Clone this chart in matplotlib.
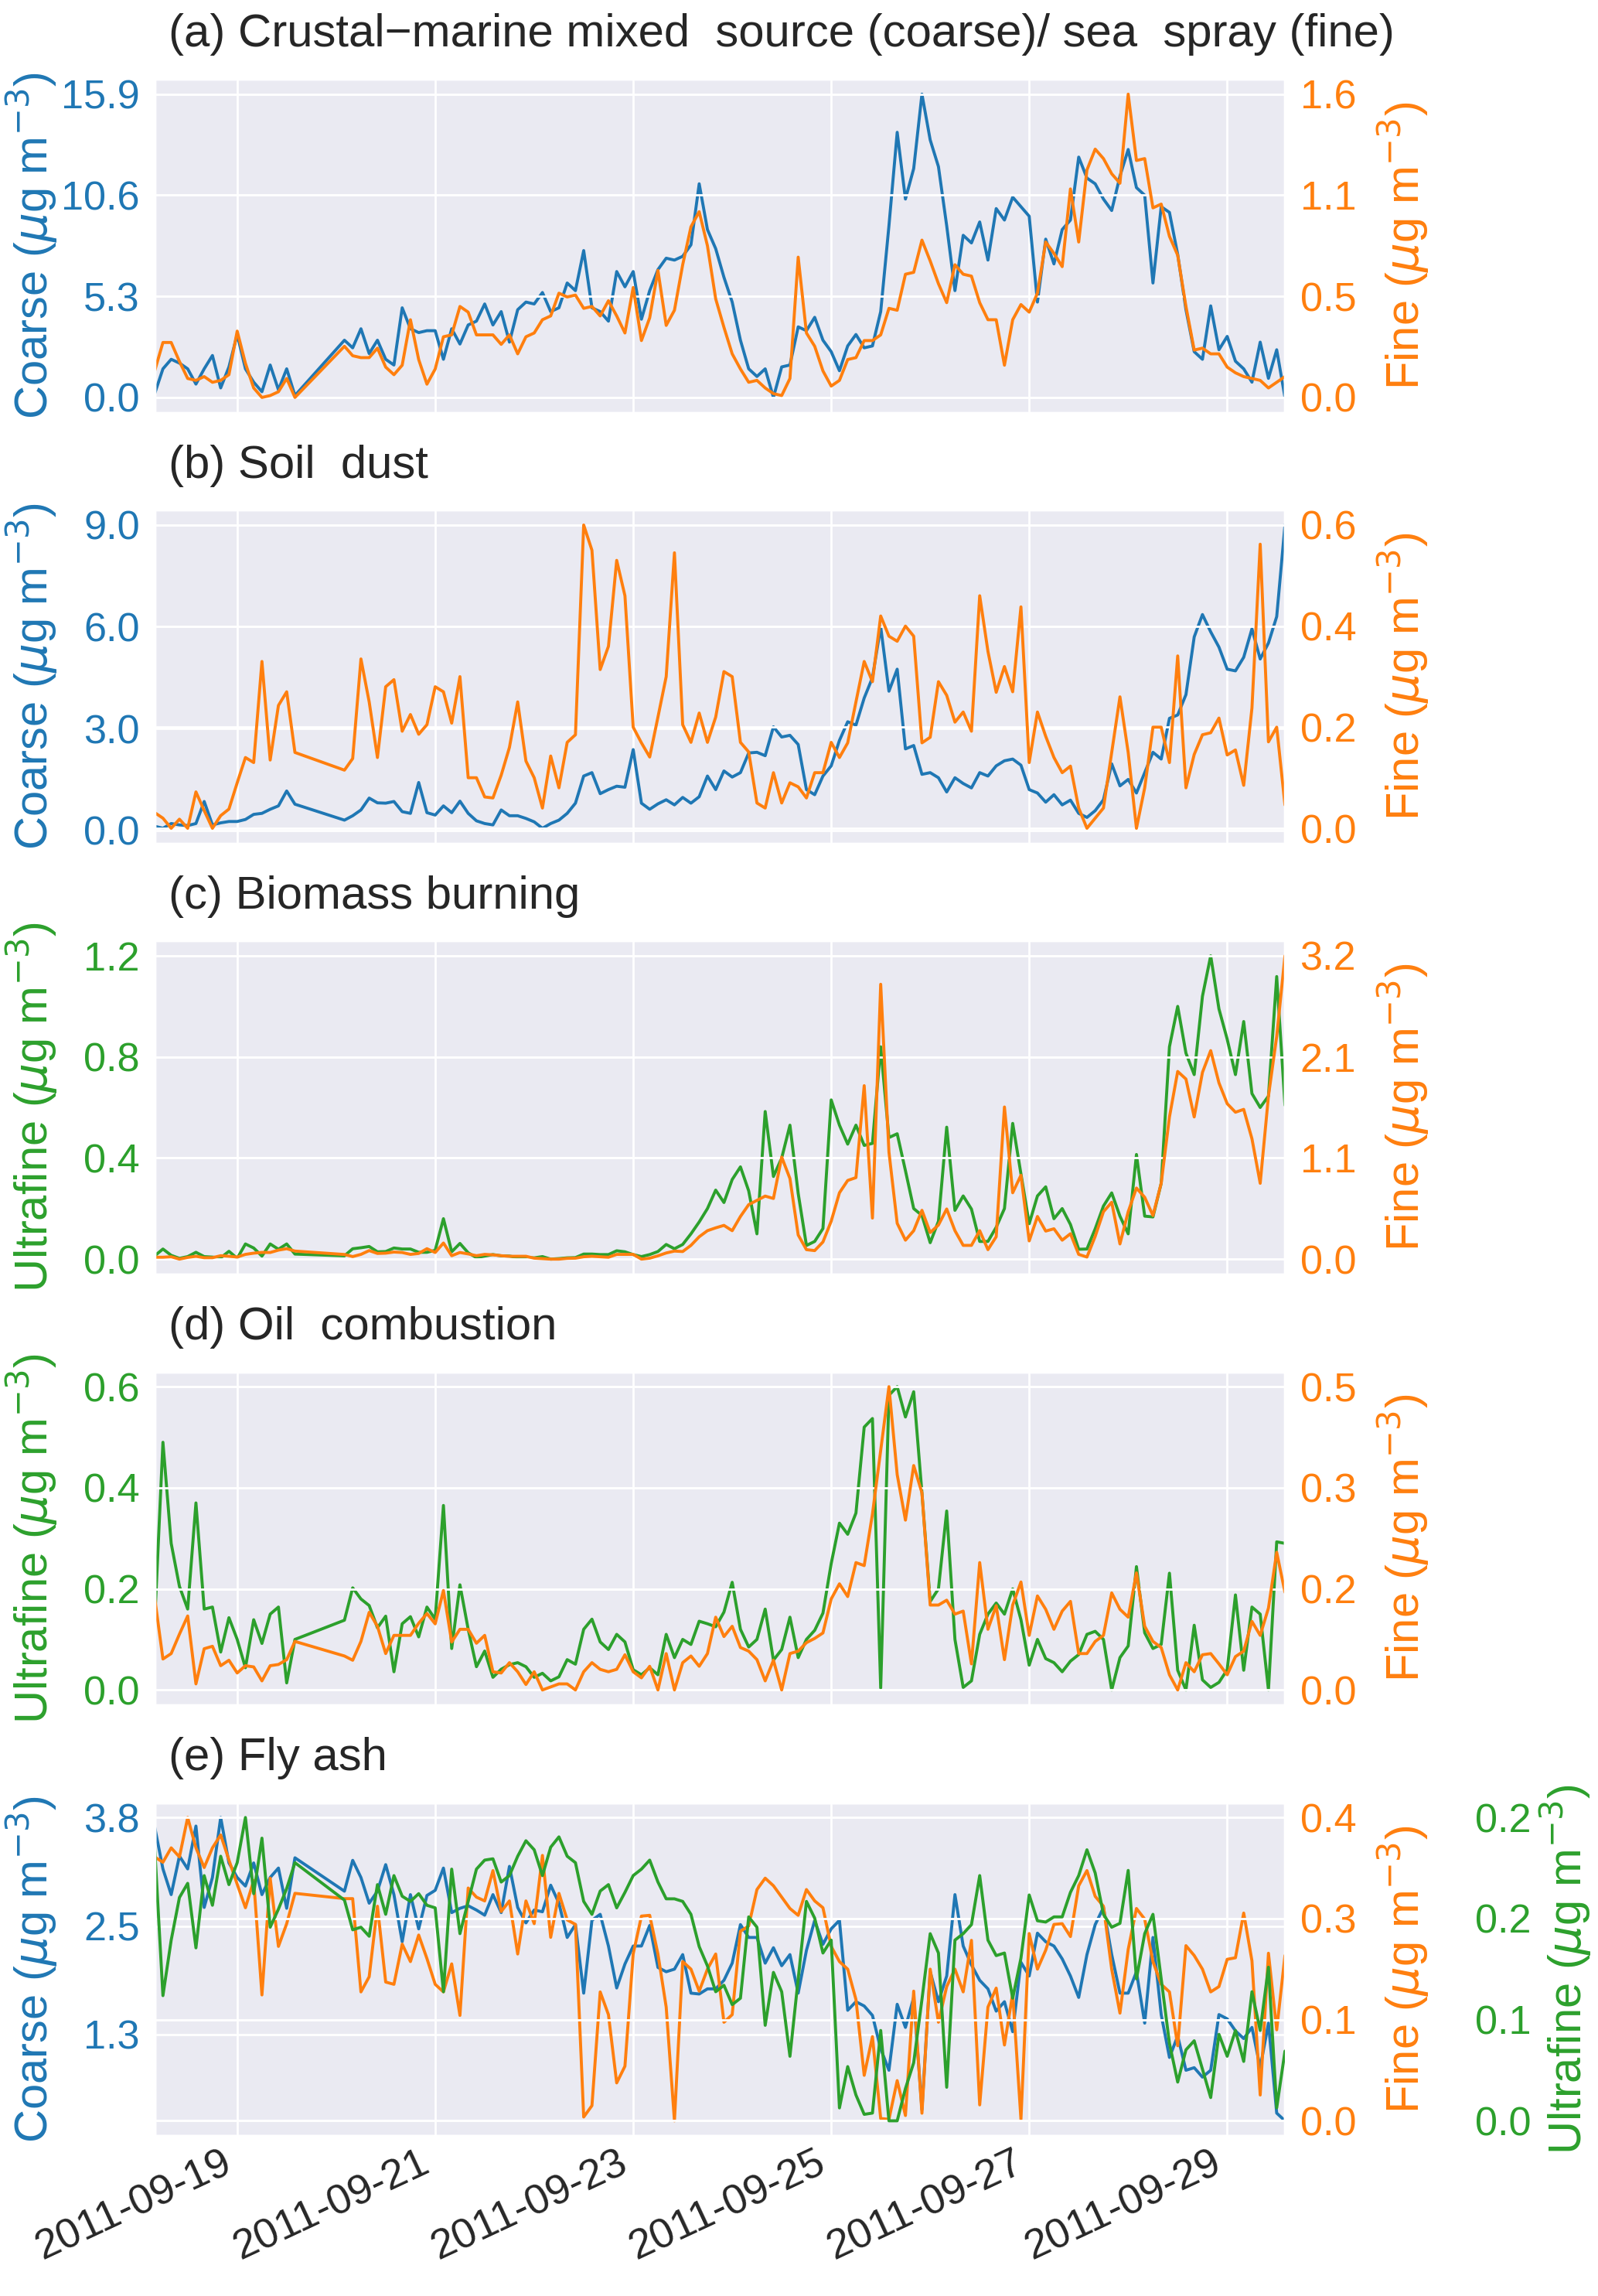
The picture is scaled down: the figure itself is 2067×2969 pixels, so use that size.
import sys
import numpy as np
import pandas as pd
import matplotlib
matplotlib.use("Agg")
import matplotlib.pyplot as plt
import matplotlib.dates as mdates
from matplotlib.ticker import FormatStrFormatter
import seaborn as sns

sns.set_theme(style="darkgrid")
plt.rcParams["font.family"] = ["Liberation Sans", "DejaVu Sans"]

# ---------------- time axis (2-hourly samples, gap on 19-20 Sep) ----------------
all_times = pd.date_range("2011-09-18 04:00", periods=138, freq="2h")
gap_idx = list(range(18, 23))
times = np.delete(all_times.to_pydatetime(), gap_idx)

# ---------------- (a) crustal-marine / sea spray ----------------
coarse_a = [
    0.2, 1.5, 2.0, 1.8, 1.5, 0.7, 1.5, 2.2, 0.5, 1.6,
    3.3, 1.5, 0.8, 0.3, 1.7, 0.4, 1.5, 0.1,
    3.0, 2.6, 3.6, 2.3, 3.0, 2.0, 1.7, 4.7, 3.6, 3.4,
    3.5, 3.5, 2.0, 3.6, 2.8, 3.8, 4.0, 4.9, 3.8, 4.5,
    2.9, 4.6, 5.0, 4.9, 5.5, 4.5, 4.7, 6.0, 5.6, 7.7,
    4.7, 4.5, 4.0, 6.6, 5.8, 6.6, 4.1, 5.6, 6.7, 7.3,
    7.2, 7.4, 8.0, 11.2, 8.8, 7.8, 6.3, 5.0, 3.0, 1.5,
    1.1, 1.5, 0.0, 1.6, 1.7, 3.7, 3.5, 4.2, 3.0, 2.4,
    1.4, 2.7, 3.3, 2.6, 2.7, 4.5, 9.0, 13.9, 10.4, 12.0,
    15.9, 13.5, 12.1, 9.0, 5.6, 8.5, 8.1, 9.2, 7.2, 9.9,
    9.3, 10.5, 10.0, 9.5, 5.0, 8.3, 7.0, 8.8, 9.3, 12.6,
    11.5, 11.2, 10.4, 9.8, 11.6, 13.0, 11.0, 10.6, 6.0, 10.0,
    9.7, 7.5, 4.6, 2.4, 2.0, 4.8, 2.5, 3.2, 1.9, 1.5,
    0.8, 2.9, 1.0, 2.5, 0.0,
]
fine_a = [
    0.14, 0.29, 0.29, 0.19, 0.10, 0.09, 0.11, 0.08, 0.09, 0.12,
    0.35, 0.18, 0.05, 0.0, 0.01, 0.03, 0.10, 0.0,
    0.27, 0.22, 0.21, 0.21, 0.26, 0.16, 0.12, 0.17, 0.41, 0.20,
    0.07, 0.15, 0.32, 0.33, 0.48, 0.45, 0.33, 0.33, 0.33, 0.28,
    0.33, 0.23, 0.32, 0.34, 0.41, 0.43, 0.55, 0.53, 0.54, 0.47,
    0.48, 0.43, 0.51, 0.43, 0.34, 0.58, 0.30, 0.42, 0.67, 0.38,
    0.46, 0.70, 0.90, 0.98, 0.80, 0.52, 0.37, 0.23, 0.15, 0.08,
    0.09, 0.05, 0.02, 0.01, 0.10, 0.74, 0.34, 0.27, 0.14, 0.06,
    0.09, 0.20, 0.21, 0.30, 0.30, 0.33, 0.47, 0.46, 0.65, 0.66,
    0.83, 0.72, 0.60, 0.50, 0.70, 0.65, 0.64, 0.50, 0.41, 0.41,
    0.17, 0.41, 0.49, 0.45, 0.55, 0.82, 0.76, 0.69, 1.10, 0.82,
    1.20, 1.31, 1.26, 1.18, 1.13, 1.60, 1.25, 1.26, 1.00, 1.02,
    0.85, 0.75, 0.48, 0.25, 0.26, 0.23, 0.23, 0.16, 0.13, 0.11,
    0.10, 0.09, 0.05, 0.08, 0.11,
]

# ---------------- (b) soil dust ----------------
coarse_b = [
    0.12, 0.06, 0.2, 0.16, 0.14, 0.2, 0.85, 0.16, 0.22, 0.26,
    0.26, 0.32, 0.47, 0.5, 0.62, 0.72, 1.16, 0.77,
    0.3, 0.43, 0.6, 0.95, 0.81, 0.8, 0.85, 0.55, 0.5, 1.41,
    0.52, 0.45, 0.72, 0.52, 0.86, 0.5, 0.28, 0.2, 0.16, 0.6,
    0.43, 0.43, 0.35, 0.25, 0.06, 0.2, 0.3, 0.5, 0.8, 1.6,
    1.7, 1.08, 1.2, 1.3, 1.27, 2.38, 0.8, 0.62, 0.78, 0.9,
    0.75, 0.97, 0.8, 0.99, 1.6, 1.2, 1.75, 1.57, 1.7, 2.28,
    2.3, 2.2, 3.05, 2.75, 2.8, 2.53, 1.2, 1.05, 1.6, 1.9,
    2.65, 3.2, 3.1, 3.9, 4.5, 6.0, 4.1, 4.75, 2.4, 2.5,
    1.65, 1.7, 1.55, 1.13, 1.55, 1.38, 1.25, 1.7, 1.6, 1.9,
    2.05, 2.1, 1.92, 1.2, 1.1, 0.83, 1.05, 0.75, 0.89, 0.5,
    0.38, 0.58, 0.9, 1.96, 1.31, 1.5, 1.1, 1.7, 2.3, 2.1,
    3.3, 3.4, 4.0, 5.7, 6.36, 5.85, 5.4, 4.75, 4.7, 5.1,
    5.94, 5.05, 5.52, 6.3, 9.0,
]
fine_b = [
    0.031, 0.02, 0.0, 0.018, 0.0, 0.072, 0.035, 0.0, 0.025, 0.038,
    0.09, 0.14, 0.13, 0.33, 0.135, 0.243, 0.27, 0.15,
    0.115, 0.138, 0.335, 0.25, 0.14, 0.28, 0.294, 0.192, 0.225, 0.186,
    0.205, 0.28, 0.27, 0.208, 0.30, 0.10, 0.10, 0.062, 0.06, 0.105,
    0.16, 0.25, 0.133, 0.10, 0.04, 0.143, 0.08, 0.17, 0.185, 0.6,
    0.55, 0.314, 0.36, 0.53, 0.46, 0.20, 0.169, 0.141, 0.22, 0.30,
    0.545, 0.205, 0.17, 0.228, 0.17, 0.22, 0.31, 0.30, 0.17, 0.151,
    0.05, 0.04, 0.11, 0.05, 0.09, 0.082, 0.06, 0.11, 0.11, 0.17,
    0.14, 0.169, 0.25, 0.33, 0.29, 0.42, 0.38, 0.37, 0.40, 0.38,
    0.169, 0.18, 0.29, 0.263, 0.21, 0.23, 0.192, 0.46, 0.35, 0.269,
    0.32, 0.27, 0.438, 0.13, 0.23, 0.182, 0.14, 0.11, 0.123, 0.04,
    0.0, 0.02, 0.04, 0.15, 0.26, 0.15, 0.0, 0.08, 0.20, 0.20,
    0.13, 0.341, 0.08, 0.146, 0.185, 0.189, 0.218, 0.145, 0.155, 0.085,
    0.238, 0.562, 0.171, 0.2, 0.046,
]

# ---------------- (c) biomass burning ----------------
ultra_c = [
    0.013, 0.04, 0.015, 0.003, 0.01, 0.027, 0.01, 0.008, 0.005, 0.031,
    0.003, 0.06, 0.044, 0.012, 0.06, 0.039, 0.06, 0.02,
    0.013, 0.041, 0.045, 0.05, 0.029, 0.03, 0.044, 0.04, 0.04, 0.027,
    0.027, 0.035, 0.16, 0.029, 0.062, 0.025, 0.006, 0.012, 0.018, 0.013,
    0.012, 0.006, 0.006, 0.005, 0.01, 0.0, 0.002, 0.005, 0.006, 0.02,
    0.02, 0.018, 0.018, 0.033, 0.029, 0.018, 0.01, 0.018, 0.03, 0.058,
    0.041, 0.058, 0.1, 0.147, 0.2, 0.273, 0.224, 0.315, 0.365, 0.27,
    0.1, 0.584, 0.327, 0.4, 0.53, 0.26, 0.054, 0.07, 0.121, 0.63,
    0.53, 0.455, 0.53, 0.45, 0.458, 0.84, 0.481, 0.496, 0.35, 0.2,
    0.173, 0.065, 0.15, 0.522, 0.193, 0.25, 0.198, 0.07, 0.07, 0.126,
    0.2, 0.537, 0.337, 0.14, 0.25, 0.286, 0.16, 0.2, 0.137, 0.039,
    0.04, 0.12, 0.21, 0.262, 0.17, 0.1, 0.414, 0.17, 0.167, 0.3,
    0.84, 1.0, 0.815, 0.73, 1.04, 1.2, 0.99, 0.87, 0.73, 0.94,
    0.655, 0.6, 0.645, 1.118, 0.609,
]
fine_c = [
    0.02, 0.02, 0.025, 0.0, 0.018, 0.03, 0.015, 0.015, 0.036, 0.03,
    0.022, 0.05, 0.063, 0.071, 0.07, 0.095, 0.11, 0.085,
    0.049, 0.027, 0.05, 0.09, 0.06, 0.063, 0.075, 0.07, 0.05, 0.06,
    0.11, 0.07, 0.17, 0.036, 0.07, 0.055, 0.036, 0.05, 0.045, 0.036,
    0.03, 0.03, 0.03, 0.01, 0.005, 0.0, 0.0, 0.008, 0.01, 0.025,
    0.03, 0.025, 0.02, 0.05, 0.05, 0.05, 0.0, 0.01, 0.035, 0.065,
    0.085, 0.08, 0.145, 0.236, 0.3, 0.33, 0.356, 0.3, 0.45, 0.575,
    0.62, 0.665, 0.64, 1.077, 0.85, 0.255, 0.1, 0.09, 0.181, 0.4,
    0.7, 0.83, 0.86, 1.83, 0.433, 2.9, 1.13, 0.378, 0.2, 0.3,
    0.515, 0.28, 0.36, 0.529, 0.3, 0.145, 0.145, 0.3, 0.1, 0.236,
    1.605, 0.7, 0.885, 0.192, 0.45, 0.296, 0.32, 0.2, 0.268, 0.05,
    0.022, 0.24, 0.5, 0.6, 0.16, 0.5, 0.75, 0.652, 0.46, 0.8,
    1.5, 1.98, 1.9, 1.5, 1.97, 2.2, 1.86, 1.64, 1.55, 1.58,
    1.27, 0.80, 1.72, 2.35, 3.2,
]

# ---------------- (d) oil combustion ----------------
ultra_d = [
    0.134, 0.49, 0.29, 0.205, 0.16, 0.37, 0.16, 0.164, 0.075, 0.143,
    0.1, 0.044, 0.139, 0.092, 0.15, 0.164, 0.014, 0.1,
    0.138, 0.202, 0.18, 0.167, 0.123, 0.146, 0.036, 0.131, 0.145, 0.105,
    0.164, 0.14, 0.365, 0.082, 0.208, 0.12, 0.046, 0.077, 0.025, 0.041,
    0.05, 0.054, 0.046, 0.025, 0.033, 0.018, 0.026, 0.06, 0.051, 0.12,
    0.14, 0.095, 0.08, 0.11, 0.095, 0.04, 0.03, 0.044, 0.03, 0.11,
    0.064, 0.1, 0.09, 0.136, 0.131, 0.125, 0.154, 0.213, 0.12, 0.085,
    0.1, 0.16, 0.059, 0.08, 0.144, 0.064, 0.1, 0.118, 0.152, 0.25,
    0.33, 0.308, 0.35, 0.52, 0.537, 0.004, 0.583, 0.6, 0.54, 0.59,
    0.39, 0.175, 0.2, 0.354, 0.1, 0.005, 0.018, 0.11, 0.15, 0.172,
    0.15, 0.2, 0.139, 0.049, 0.1, 0.062, 0.054, 0.036, 0.057, 0.07,
    0.11, 0.116, 0.1, 0.0, 0.064, 0.087, 0.244, 0.113, 0.082, 0.09,
    0.231, 0.039, 0.0, 0.128, 0.02, 0.005, 0.015, 0.04, 0.188, 0.039,
    0.164, 0.15, 0.0, 0.293, 0.29,
]
fine_d = [
    0.152, 0.051, 0.06, 0.092, 0.122, 0.01, 0.068, 0.072, 0.04, 0.049,
    0.028, 0.04, 0.038, 0.015, 0.04, 0.042, 0.05, 0.08,
    0.056, 0.049, 0.08, 0.128, 0.105, 0.06, 0.09, 0.09, 0.09, 0.11,
    0.126, 0.109, 0.164, 0.079, 0.1, 0.1, 0.077, 0.09, 0.03, 0.028,
    0.045, 0.03, 0.009, 0.03, 0.0, 0.005, 0.01, 0.01, 0.0, 0.03,
    0.045, 0.034, 0.03, 0.034, 0.058, 0.03, 0.02, 0.039, 0.0, 0.06,
    0.0, 0.045, 0.056, 0.039, 0.06, 0.12, 0.088, 0.105, 0.07, 0.064,
    0.05, 0.015, 0.049, 0.0, 0.06, 0.064, 0.078, 0.085, 0.094, 0.15,
    0.175, 0.154, 0.21, 0.205, 0.29, 0.395, 0.5, 0.355, 0.28, 0.37,
    0.325, 0.14, 0.14, 0.148, 0.125, 0.13, 0.043, 0.21, 0.1, 0.139,
    0.05, 0.14, 0.178, 0.09, 0.155, 0.133, 0.1, 0.13, 0.146, 0.06,
    0.06, 0.08, 0.09, 0.16, 0.133, 0.12, 0.193, 0.105, 0.08, 0.07,
    0.025, 0.0, 0.045, 0.03, 0.058, 0.06, 0.043, 0.025, 0.055, 0.064,
    0.113, 0.09, 0.135, 0.227, 0.161,
]

# ---------------- (e) fly ash ----------------
coarse_e = [
    3.69, 3.2, 2.9, 3.35, 3.2, 3.7, 2.75, 3.1, 3.8, 3.27,
    3.1, 3.0, 3.27, 2.9, 3.1, 3.21, 2.74, 3.33,
    2.94, 3.3, 3.1, 2.8, 2.94, 3.25, 2.9, 2.35, 2.9, 2.5,
    2.89, 2.95, 3.21, 2.69, 2.74, 2.77, 2.72, 2.66, 2.9, 2.69,
    3.23, 2.75, 2.57, 2.72, 2.7, 3.01, 2.8, 2.4, 2.55, 1.75,
    2.6, 2.67, 2.3, 1.81, 2.09, 2.3, 2.3, 2.54, 2.05, 2.0,
    2.03, 2.2, 1.75, 1.74, 1.8, 1.8, 1.9, 2.1, 2.55, 2.4,
    2.4, 2.1, 2.28, 2.07, 2.2, 1.75, 2.25, 2.6, 2.32, 2.5,
    2.6, 1.55, 1.65, 1.6, 1.49, 1.1, 0.85, 1.62, 1.35, 1.7,
    0.39, 2.0, 1.65, 1.95, 2.9, 2.3, 2.08, 1.9, 1.8, 1.54,
    1.65, 1.3, 2.11, 1.95, 2.45, 2.35, 2.3, 2.15, 1.95, 1.7,
    2.2, 2.55, 2.75, 2.2, 1.75, 1.75, 2.0, 1.4, 2.4, 1.5,
    1.0, 1.25, 0.85, 0.88, 0.77, 0.85, 1.5, 1.45, 1.31, 1.22,
    1.35, 0.88, 1.4, 0.35, 0.26,
]
fine_e = [
    0.348, 0.341, 0.36, 0.348, 0.40, 0.36, 0.334, 0.36, 0.377, 0.344,
    0.312, 0.281, 0.317, 0.166, 0.32, 0.23, 0.26, 0.3,
    0.293, 0.293, 0.17, 0.19, 0.283, 0.183, 0.18, 0.233, 0.21, 0.245,
    0.214, 0.18, 0.17, 0.207, 0.139, 0.307, 0.295, 0.29, 0.33, 0.276,
    0.29, 0.22, 0.29, 0.26, 0.35, 0.242, 0.3, 0.265, 0.259, 0.005,
    0.02, 0.17, 0.14, 0.05, 0.072, 0.22, 0.27, 0.271, 0.22, 0.15,
    0.0, 0.21, 0.2, 0.171, 0.2, 0.22, 0.13, 0.14, 0.25, 0.257,
    0.305, 0.32, 0.31, 0.295, 0.28, 0.271, 0.305, 0.29, 0.281, 0.23,
    0.21, 0.2, 0.16, 0.06, 0.111, 0.003, 0.002, 0.053, 0.007, 0.171,
    0.01, 0.2, 0.13, 0.177, 0.2, 0.17, 0.238, 0.021, 0.15, 0.175,
    0.1, 0.168, 0.002, 0.247, 0.2, 0.225, 0.259, 0.26, 0.243, 0.31,
    0.33, 0.296, 0.283, 0.2, 0.142, 0.226, 0.28, 0.266, 0.21, 0.18,
    0.17, 0.099, 0.231, 0.218, 0.2, 0.17, 0.177, 0.213, 0.215, 0.274,
    0.211, 0.034, 0.221, 0.12, 0.218,
]
ultra_e = [
    0.212, 0.097, 0.14, 0.173, 0.184, 0.134, 0.19, 0.167, 0.205, 0.183,
    0.2, 0.235, 0.176, 0.219, 0.15, 0.164, 0.18, 0.2,
    0.171, 0.148, 0.15, 0.143, 0.183, 0.16, 0.19, 0.174, 0.17, 0.176,
    0.167, 0.165, 0.1, 0.195, 0.145, 0.17, 0.195, 0.202, 0.203, 0.185,
    0.19, 0.205, 0.217, 0.21, 0.19, 0.212, 0.22, 0.205, 0.2, 0.17,
    0.16, 0.178, 0.183, 0.165, 0.177, 0.19, 0.195, 0.202, 0.185, 0.172,
    0.172, 0.17, 0.16, 0.135, 0.12, 0.1, 0.105, 0.09, 0.095, 0.158,
    0.15, 0.074, 0.115, 0.1, 0.05, 0.11, 0.17, 0.157, 0.13, 0.14,
    0.01, 0.042, 0.02, 0.005, 0.006, 0.07, 0.0, 0.0, 0.025, 0.045,
    0.094, 0.145, 0.13, 0.026, 0.14, 0.145, 0.152, 0.19, 0.14, 0.128,
    0.13, 0.095, 0.126, 0.175, 0.155, 0.154, 0.158, 0.158, 0.177, 0.19,
    0.21, 0.192, 0.16, 0.15, 0.153, 0.194, 0.11, 0.145, 0.16, 0.11,
    0.06, 0.03, 0.055, 0.062, 0.04, 0.018, 0.067, 0.05, 0.07, 0.046,
    0.1, 0.07, 0.119, 0.01, 0.054,
]

titles = [
    "(a) Crustal\u2212marine mixed  source (coarse)/ sea  spray (fine)",
    "(b) Soil  dust",
    "(c) Biomass burning",
    "(d) Oil  combustion",
    "(e) Fly ash",
]

BLUE = "#1f77b4"
ORANGE = "#ff7f0e"
GREEN = "#2ca02c"
TXT = "#262626"
UNIT = r" ($\mu$g m$^{-3}$)"

TICK_FS = 18.8
XTICK_FS = 19.5
LABEL_FS = 21.5
TITLE_FS = 21.6
LW = 1.4
LEFT_LABEL_X = -0.0845

fig, axes = plt.subplots(5, 1, figsize=(10.335, 14.845), dpi=200, sharex=True)
fig.subplots_adjust(left=0.0968, right=0.8041, top=0.9656, bottom=0.0697,
                    hspace=0.2914)


def plot_series(ax, data, color, name, labelpad):
    n = min(len(times), len(data))
    if n != len(times) or n != len(data):
        print("length mismatch", name, len(data), len(times), file=sys.stderr)
    ax.plot(times[:n], data[:n], color=color, lw=LW)
    lo, hi = ax.get_ylim()
    ax.set_yticks(np.linspace(0, np.max(data), 4))
    ax.set_ylim(lo, hi)
    ax.yaxis.set_major_formatter(FormatStrFormatter("%.1f"))
    ax.tick_params(axis="both", length=0)
    ax.tick_params(axis="y", labelcolor=color, labelsize=TICK_FS, pad=7)
    ax.set_ylabel(name + UNIT, color=color, fontsize=LABEL_FS,
                  labelpad=labelpad)


panels = [
    ((coarse_a, BLUE, "Coarse"), (fine_a, ORANGE, "Fine"), None),
    ((coarse_b, BLUE, "Coarse"), (fine_b, ORANGE, "Fine"), None),
    ((ultra_c, GREEN, "Ultrafine"), (fine_c, ORANGE, "Fine"), None),
    ((ultra_d, GREEN, "Ultrafine"), (fine_d, ORANGE, "Fine"), None),
    ((coarse_e, BLUE, "Coarse"), (fine_e, ORANGE, "Fine"),
     (ultra_e, GREEN, "Ultrafine")),
]

for ax, title, (left, right, third) in zip(axes, titles, panels):
    plot_series(ax, *left, 0)
    ax.yaxis.set_label_coords(LEFT_LABEL_X, 0.5)
    ax2 = ax.twinx()
    plot_series(ax2, *right, 9)
    if third is not None:
        ax3 = ax.twinx()
        ax3.spines["right"].set_position(("axes", 1.155))
        plot_series(ax3, *third, 3)
    ax.set_xlim(times[0], times[-1])
    ax.set_title(title, loc="left", x=0.012, pad=15, fontsize=TITLE_FS,
                 color=TXT)

bottom = axes[-1]
bottom.xaxis.set_major_locator(mdates.DayLocator(bymonthday=[19, 21, 23, 25, 27, 29]))
bottom.xaxis.set_major_formatter(mdates.DateFormatter("%Y-%m-%d"))
bottom.tick_params(axis="x", labelsize=XTICK_FS, labelcolor=TXT, length=0)
for lab in bottom.get_xticklabels():
    lab.set_rotation(25)
    lab.set_ha("right")

fig.savefig("out.png", dpi=200)
